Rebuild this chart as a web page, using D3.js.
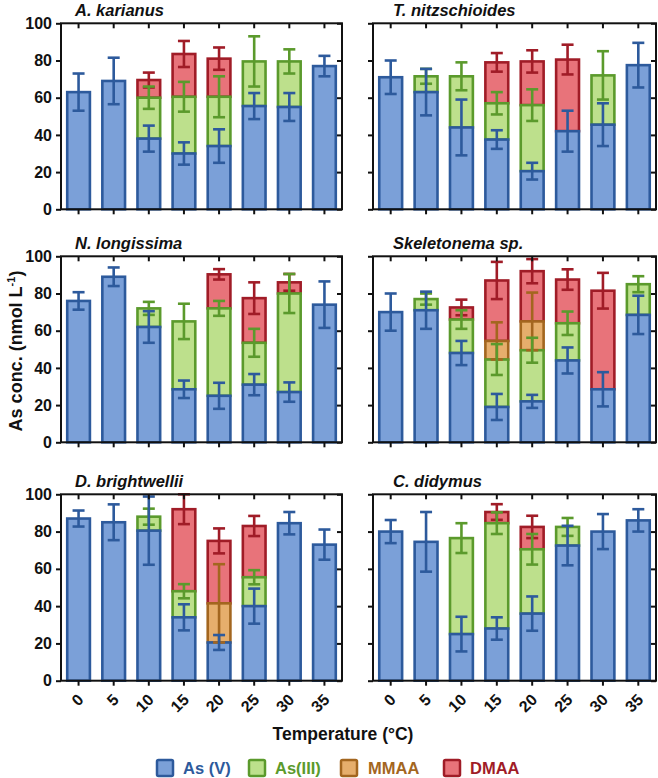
<!DOCTYPE html>
<html>
<head>
<meta charset="utf-8">
<script src="https://cdn.jsdelivr.net/npm/d3@7"></script>
<style>
  html, body { margin: 0; padding: 0; background: #fff; }
  svg { display: block; font-family: "Liberation Sans", Arial, sans-serif; }
</style>
</head>
<body>
<svg id="chart" width="658" height="778"></svg>
<script>
// ---------------- DATA ----------------
const temperatures = ["0", "5", "10", "15", "20", "25", "30", "35"];
const species = ["A. karianus", "T. nitzschioides", "N. longissima", "Skeletonema sp.", "D. brightwellii", "C. didymus"];
const seriesNames = ["As (V)", "As(III)", "MMAA", "DMAA"];
const yTicks = [0, 20, 40, 60, 80, 100];

// segment amounts (nmol/L) per species (rows) and temperature (columns)
const asV = [
  [63, 69, 38, 30, 34, 55.5, 55, 77],
  [71, 63, 44, 37.5, 20.5, 42, 45.5, 77.5],
  [76, 89, 62, 28.5, 25, 31, 27, 74],
  [70, 71, 48, 19, 22, 44, 28.5, 68.5],
  [87, 85, 80.5, 34, 20.5, 40, 84.5, 73],
  [80, 74.5, 25, 28, 36, 72.5, 80, 86]
];
const asVErr = [
  [10, 12.5, 7, 6, 9, 7, 7.5, 5.5],
  [9, 12.5, 15, 5, 4.5, 11, 11.5, 12],
  [4.7, 5, 8.5, 4.7, 7, 5.7, 5.2, 12.5],
  [10, 10, 6.5, 7, 3.5, 7, 9.2, 10.3],
  [4.3, 9.6, 18.3, 7, 4, 9.4, 6, 8.1],
  [6.2, 16, 9.3, 6, 9.2, 10.6, 9.4, 6]
];
const asIII = [
  [0, 0, 22, 30.5, 26.5, 24, 24.5, 0],
  [0, 8.5, 27.5, 19.5, 35.5, 0, 26.5, 0],
  [0, 0, 10, 36.5, 47, 22.5, 53, 0],
  [0, 6, 18, 25.5, 27.5, 20, 0, 16.5],
  [0, 0, 7.5, 14, 0, 15.5, 0, 0],
  [0, 0, 51.5, 56.5, 34.5, 10, 0, 0]
];
const asIIIErr = [
  [0, 0, 6, 8, 11, 13.5, 6.5, 0],
  [0, 4, 7.5, 6, 8.5, 0, 13, 0],
  [0, 0, 3.5, 9.5, 4, 7.5, 10.5, 0],
  [0, 3, 5, 8.3, 6.7, 6.3, 0, 4.3],
  [0, 0, 4.3, 3.8, 0, 3.8, 0, 0],
  [0, 0, 8, 5.8, 8.2, 4.8, 0, 0]
];
const mmaa = [
  [0, 0, 0, 0, 0, 0, 0, 0],
  [0, 0, 0, 0, 0, 0, 0, 0],
  [0, 0, 0, 0, 0, 0, 0, 0],
  [0, 0, 0, 10, 15.5, 0, 0, 0],
  [0, 0, 0, 0, 21, 0, 0, 0],
  [0, 0, 0, 0, 0, 0, 0, 0]
];
const mmaaErr = [
  [0, 0, 0, 0, 0, 0, 0, 0],
  [0, 0, 0, 0, 0, 0, 0, 0],
  [0, 0, 0, 0, 0, 0, 0, 0],
  [0, 0, 0, 10, 15.5, 0, 0, 0],
  [0, 0, 0, 0, 21, 0, 0, 0],
  [0, 0, 0, 0, 0, 0, 0, 0]
];
const dmaa = [
  [0, 0, 9.5, 23, 20.5, 0, 0, 0],
  [0, 0, 0, 22, 23.5, 38.5, 0, 0],
  [0, 0, 0, 0, 18.3, 24, 6, 0],
  [0, 0, 6.5, 32.5, 27, 23.5, 53, 0],
  [0, 0, 0, 44, 33.5, 27.5, 0, 0],
  [0, 0, 0, 6, 12, 0, 0, 0]
];
const dmaaErr = [
  [0, 0, 4, 7, 6, 0, 0, 0],
  [0, 0, 0, 5, 6, 8, 0, 0],
  [0, 0, 0, 0, 2.8, 8.5, 4.5, 0],
  [0, 0, 4.2, 10, 6.5, 5.5, 9.6, 0],
  [0, 0, 0, 8, 6.7, 5.4, 0, 0],
  [0, 0, 0, 4.2, 6, 0, 0, 0]
];

// ---------------- STYLE ----------------
const fills   = ["#7ba0d8", "#bde08c", "#e6ae6c", "#e8737a"];
const strokes = ["#2d5a9c", "#5b9a2c", "#a3661f", "#a01c27"];

const values = [asV, asIII, mmaa, dmaa];
const errors = [asVErr, asIIIErr, mmaaErr, dmaaErr];

const svg = d3.select("#chart");
const colX = [[61, 342], [373, 656]];
const rowY = [[23.3, 209.3], [256.3, 442.3], [494.3, 680.7]];
const SW = 2.6;

species.forEach((name, si) => {
  const col = si % 2, row = Math.floor(si / 2);
  const [x0, x1] = colX[col];
  const [y0, y1] = rowY[row];
  const x = d3.scaleBand().domain(temperatures).range([x0, x1]).paddingInner(0.28).paddingOuter(0.14);
  const y = d3.scaleLinear().domain([0, 100]).range([y1, y0]);
  const g = svg.append("g");

  // stacked data
  const rows = temperatures.map((t, ti) => {
    let base = 0;
    const segs = values.map((v, k) => {
      const val = v[si][ti];
      const s = { k, t, lo: base, hi: base + val, val, err: errors[k][si][ti] };
      base += val;
      return s;
    });
    return segs;
  });
  const segs = rows.flat().filter(d => d.val > 0);

  // bars: draw upper series first so lower segment edges sit on top
  const bw = x.bandwidth();
  [3, 2, 1, 0].forEach(k => {
    g.selectAll(null).data(segs.filter(d => d.k === k)).enter().append("rect")
      .attr("x", d => x(d.t) + SW / 2)
      .attr("width", bw - SW)
      .attr("y", d => y(d.hi))
      .attr("height", d => y(d.lo) - y(d.hi))
      .attr("fill", fills[k])
      .attr("stroke", strokes[k])
      .attr("stroke-width", SW);
  });

  // error bars
  const cap = 6;
  [3, 2, 1, 0].forEach(k => {
    const eb = g.selectAll(null).data(segs.filter(d => d.k === k && d.err > 0)).enter().append("g")
      .attr("stroke", strokes[k]).attr("stroke-width", SW).attr("fill", "none");
    eb.append("line")
      .attr("x1", d => x(d.t) + bw / 2).attr("x2", d => x(d.t) + bw / 2)
      .attr("y1", d => y(Math.min(100, d.hi + d.err))).attr("y2", d => y(d.hi - d.err));
    eb.append("line")
      .attr("x1", d => x(d.t) + bw / 2 - cap).attr("x2", d => x(d.t) + bw / 2 + cap)
      .attr("y1", d => y(Math.min(100, d.hi + d.err))).attr("y2", d => y(Math.min(100, d.hi + d.err)));
    eb.append("line")
      .attr("x1", d => x(d.t) + bw / 2 - cap).attr("x2", d => x(d.t) + bw / 2 + cap)
      .attr("y1", d => y(d.hi - d.err)).attr("y2", d => y(d.hi - d.err));
  });

  // axes
  const left = g.append("g").attr("transform", `translate(${x0},0)`)
    .call(d3.axisLeft(y).tickValues(yTicks).tickSize(5).tickPadding(4)
      .tickFormat(col === 0 ? d3.format("d") : () => ""));
  const right = g.append("g").attr("transform", `translate(${x1},0)`)
    .call(d3.axisRight(y).tickValues(yTicks).tickSize(-5).tickFormat(() => ""));
  const top = g.append("g").attr("transform", `translate(0,${y0})`)
    .call(d3.axisTop(x).tickSize(-5).tickFormat(() => ""));
  const bottom = g.append("g").attr("transform", `translate(0,${y1})`)
    .call(d3.axisBottom(x).tickSize(5).tickFormat(row === 2 ? (d => d) : () => ""));
  [left, right, top, bottom].forEach(a => {
    a.select(".domain").remove();
    a.selectAll(".tick line").attr("stroke", "#111").attr("stroke-width", 2);
    a.selectAll("text").attr("fill", "#111").attr("font-size", 16).attr("font-weight", "bold")
      .attr("font-family", "'Liberation Sans', Arial, sans-serif");
  });
  if (row === 2) {
    bottom.selectAll(".tick text")
      .attr("text-anchor", "end")
      .attr("y", 0).attr("dy", 0)
      .attr("transform", "translate(6,20) rotate(-45)");
  }
  // frame
  g.append("rect").attr("x", x0).attr("y", y0).attr("width", x1 - x0).attr("height", y1 - y0)
    .attr("fill", "none").attr("stroke", "#111").attr("stroke-width", 2);

  // title
  g.append("text").attr("x", x0 + (col === 0 ? 14 : 20)).attr("y", y0 - 7.5)
    .attr("font-size", 16.5).attr("font-weight", "bold").attr("font-style", "italic")
    .attr("fill", "#111").text(name);
});

// y-axis label
const yl = svg.append("text")
  .attr("transform", "translate(22,351) rotate(-90)")
  .attr("text-anchor", "middle").attr("font-size", 18).attr("font-weight", "bold").attr("fill", "#111");
yl.append("tspan").text("As conc. (nmol L");
yl.append("tspan").attr("dy", -7).attr("font-size", 11).text("-1");
yl.append("tspan").attr("dy", 7).text(")");

// x-axis label
svg.append("text").attr("x", 343).attr("y", 740).attr("text-anchor", "middle")
  .attr("font-size", 17.5).attr("font-weight", "bold").attr("fill", "#111").text("Temperature (°C)");

// legend
const legX = [157, 249, 341, 444];
const legTextX = [183, 275, 368, 470];
seriesNames.forEach((n, k) => {
  svg.append("rect").attr("x", legX[k]).attr("y", 760).attr("width", 16).attr("height", 16)
    .attr("rx", 1.5).attr("fill", fills[k]).attr("stroke", strokes[k]).attr("stroke-width", 2.5);
  svg.append("text").attr("x", legTextX[k]).attr("y", 774).attr("font-size", 16.5).attr("font-weight", "bold")
    .attr("fill", strokes[k]).text(n);
});
</script>
</body>
</html>
